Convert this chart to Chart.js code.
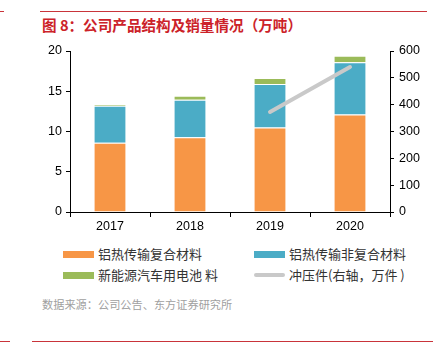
<!DOCTYPE html>
<html>
<head>
<meta charset="utf-8">
<script src="https://cdn.jsdelivr.net/npm/chart.js@4"></script>
<style>
  body { margin: 0; background: #fff; font-family: "Noto Sans CJK SC", "Liberation Sans", sans-serif; }
  #wrap { position: relative; width: 438px; height: 352px; overflow: hidden; }
  .rule { position: absolute; height: 1px; background: #c9343a; }
  #title { position: absolute; left: 42px; top: 14px; font-size: 14.6px; font-weight: bold; color: #cc2229; white-space: nowrap; }
  #chartBox { position: absolute; left: 0; top: 0; width: 438px; height: 240px; }
  .leg { position: absolute; font-size: 13px; color: #333; white-space: nowrap; line-height: 16px; }
  .sw { display: inline-block; width: 31px; height: 7px; vertical-align: middle; margin-right: 4px; position: relative; top: -1px; }
  #source { position: absolute; left: 42px; top: 296px; font-size: 11.2px; color: #a0a0a0; white-space: nowrap; }
</style>
</head>
<body>
<div id="wrap">
  <div class="rule" style="left:0;top:11px;width:4px"></div>
  <div class="rule" style="left:40px;top:11px;width:387px"></div>
  <div id="title">图 8：公司产品结构及销量情况（万吨）</div>
  <div id="chartBox"><canvas id="myChart"></canvas></div>
  <div class="leg" style="left:63px;top:246px"><span class="sw" style="background:#f79646"></span>铝热传输复合材料</div>
  <div class="leg" style="left:254px;top:246px"><span class="sw" style="background:#4bacc6"></span>铝热传输非复合材料</div>
  <div class="leg" style="left:63px;top:267px"><span class="sw" style="background:#9bbb59"></span>新能源汽车用电池 料</div>
  <div class="leg" style="left:254px;top:267px"><span class="sw" style="background:#c9c9c9;height:4px;border-radius:2px"></span>冲压件(右轴，万件 )</div>
  <div id="source">数据来源：公司公告、东方证券研究所</div>
  <div class="rule" style="left:0;top:341px;width:10px"></div>
  <div class="rule" style="left:32px;top:341px;width:401px"></div>
</div>
<script>
var years = ['2017', '2018', '2019', '2020'];
var composite = [8.6, 9.3, 10.5, 12.1];
var nonComposite = [4.6, 4.65, 5.4, 6.5];
var battery = [0.2, 0.5, 0.75, 0.8];
var stamping = [null, null, 373, 540];

var axisFont = { family: '"Liberation Sans", Arial, sans-serif', size: 12.5 };

var ctx = document.getElementById('myChart').getContext('2d');
var myChart = new Chart(ctx, {
    type: 'bar',
    data: {
        labels: years,
        datasets: [{
            label: '冲压件(右轴，万件 )',
            type: 'line',
            data: stamping,
            yAxisID: 'y1',
            borderColor: '#c9c9c9',
            borderWidth: 4,
            borderCapStyle: 'round',
            pointRadius: 0,
            order: 0
        }, {
            label: '铝热传输复合材料',
            data: composite,
            backgroundColor: '#f79646',
            borderColor: 'rgba(255,255,255,0.6)',
            borderWidth: 1,
            order: 1
        }, {
            label: '铝热传输非复合材料',
            data: nonComposite,
            backgroundColor: '#4bacc6',
            borderColor: 'rgba(255,255,255,0.6)',
            borderWidth: 1,
            order: 1
        }, {
            label: '新能源汽车用电池 料',
            data: battery,
            backgroundColor: '#9bbb59',
            borderColor: 'rgba(255,255,255,0.6)',
            borderWidth: 1,
            order: 1
        }]
    },
    options: {
        responsive: true,
        maintainAspectRatio: false,
        animation: false,
        layout: { padding: { left: 30, right: 8, top: 51, bottom: 0 } },
        datasets: { bar: { categoryPercentage: 1, barPercentage: 0.41 } },
        plugins: {
            legend: { display: false },
            tooltip: { enabled: false }
        },
        scales: {
            x: {
                stacked: true,
                grid: { offset: true, drawOnChartArea: false, color: '#000', tickLength: 5 },
                border: { color: '#000' },
                ticks: { color: '#000', font: axisFont, padding: 2 },
                afterFit: function (s) { s.height = 28; }
            },
            y: {
                stacked: true,
                min: 0,
                max: 20,
                ticks: { stepSize: 5, color: '#000', font: axisFont, padding: 4 },
                grid: { drawOnChartArea: false, color: '#000', tickLength: 4 },
                border: { color: '#000' },
                afterFit: function (s) { s.width = 40; }
            },
            y1: {
                position: 'right',
                min: 0,
                max: 600,
                ticks: { stepSize: 100, color: '#000', font: axisFont, padding: 5 },
                grid: { drawOnChartArea: false, color: '#000', tickLength: 4 },
                border: { color: '#000' },
                afterFit: function (s) { s.width = 40; }
            }
        }
    }
});
</script>
</body>
</html>
